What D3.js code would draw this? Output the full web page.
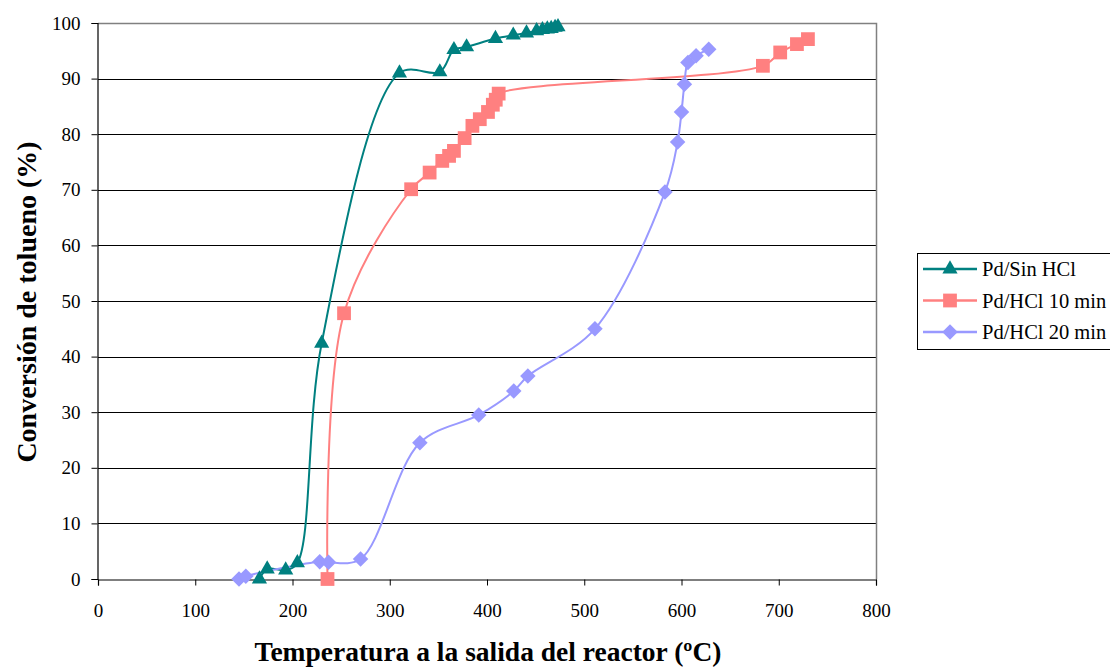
<!DOCTYPE html>
<html>
<head>
<meta charset="utf-8">
<script src="https://cdn.jsdelivr.net/npm/d3@7"></script>
<style>
  html, body { margin: 0; padding: 0; background: #fff; }
  svg { display: block; }
  text { font-family: "Liberation Serif", "Times New Roman", serif; }
</style>
</head>
<body>
<svg id="chart" width="1110" height="669"></svg>
<script>
// Temperature (ºC) and toluene conversion (%) for each catalyst
const sinHclTemp = [166, 174, 193, 205, 230, 310, 351.5, 366, 379, 408.7, 427, 440.6, 451, 457, 462, 466, 470, 473];
const sinHclConv = [0, 1.8, 1.6, 2.9, 42.4, 91, 91.2, 95.2, 95.7, 97.2, 97.8, 98.2, 98.6, 98.8, 98.9, 99.0, 99.2, 99.3];

const hcl10Temp = [236, 253, 322, 341, 354, 361, 366, 377, 385, 392.6, 401, 406, 409, 412, 683.7, 701.5, 718.7, 730];
const hcl10Conv = [0, 47.8, 70.1, 73.1, 75.2, 76.1, 77, 79.3, 81.5, 82.7, 84, 85.3, 86.2, 87.3, 92.3, 94.7, 96.2, 97.1];

const hcl20Temp = [145, 152, 228, 237, 270, 331, 391.5, 427.5, 442, 511, 583, 596, 600, 603, 606.6, 615, 628];
const hcl20Conv = [0, 0.5, 3.1, 3.0, 3.6, 24.5, 29.5, 33.8, 36.5, 45, 69.6, 78.6, 84, 89, 92.9, 94.1, 95.3];

const seriesNames = ["Pd/Sin HCl", "Pd/HCl 10 min", "Pd/HCl 20 min"];
const seriesColors = ["#008080", "#FF8080", "#9999FF"];

const xTicks = [0, 100, 200, 300, 400, 500, 600, 700, 800];
const yTicks = [0, 10, 20, 30, 40, 50, 60, 70, 80, 90, 100];

const xTitle = "Temperatura a la salida del reactor (ºC)";
const yTitle = "Conversión de tolueno (%)";

const serif = '"Liberation Serif", "Times New Roman", serif';

// Square rotated by 45 degrees, equal width and height
const symbolRhombus = {
  draw(ctx, size) {
    const r = Math.sqrt(size / 2);
    ctx.moveTo(0, -r); ctx.lineTo(r, 0); ctx.lineTo(0, r); ctx.lineTo(-r, 0); ctx.closePath();
  }
};
const seriesMarkers = [
  d3.symbol().type(d3.symbolTriangle).size(100)(),
  d3.symbol().type(d3.symbolSquare).size(190)(),
  d3.symbol().type(symbolRhombus).size(120)()
];

const series = [
  { name: seriesNames[0], temp: sinHclTemp, conv: sinHclConv },
  { name: seriesNames[1], temp: hcl10Temp, conv: hcl10Conv },
  { name: seriesNames[2], temp: hcl20Temp, conv: hcl20Conv }
].map((s, i) => ({
  ...s,
  color: seriesColors[i],
  marker: seriesMarkers[i],
  points: s.temp.map((t, j) => [t, s.conv[j]])
}));

const svg = d3.select("#chart");
const plot = { left: 98, top: 23, right: 876, bottom: 579 };

const x = d3.scaleLinear().domain([0, 800]).range([plot.left, plot.right]);
const y = d3.scaleLinear().domain([0, 100]).range([plot.bottom, plot.top]);

// Horizontal gridlines
svg.append("g")
  .selectAll("line")
  .data(yTicks.filter(v => v > 0 && v < 100))
  .join("line")
  .attr("x1", plot.left).attr("x2", plot.right)
  .attr("y1", d => Math.round(y(d)) + 0.5).attr("y2", d => Math.round(y(d)) + 0.5)
  .attr("stroke", "#000").attr("stroke-width", 1);

// Plot frame (top and right)
svg.append("path")
  .attr("d", `M${plot.left},${plot.top + 0.5}H${plot.right + 0.5}V${plot.bottom}`)
  .attr("fill", "none").attr("stroke", "#808080").attr("stroke-width", 1.5);

// Axes
const xAxis = svg.append("g")
  .attr("transform", `translate(0,${plot.bottom + 0.5})`)
  .call(d3.axisBottom(x).tickValues(xTicks).tickSize(6).tickPadding(18).tickFormat(d3.format("d")));
const yAxis = svg.append("g")
  .attr("transform", `translate(${plot.left - 0.5},0)`)
  .call(d3.axisLeft(y).tickValues(yTicks).tickSize(6).tickPadding(11).tickFormat(d3.format("d")));

[xAxis, yAxis].forEach(g => {
  g.attr("font-family", serif).attr("font-size", 19);
  g.select(".domain").attr("stroke", "#000").attr("stroke-width", 1.2);
  g.selectAll(".tick line").attr("stroke", "#000");
  g.selectAll(".tick text")
    .attr("fill", "#000")
    .style("font-family", serif)
    .style("font-size", "19px");
});

// Series lines and markers
const line = d3.line()
  .x(d => x(d[0]))
  .y(d => y(d[1]))
  .curve(d3.curveCatmullRom.alpha(0.5));

series.forEach(s => {
  svg.append("path")
    .datum(s.points)
    .attr("d", line)
    .attr("fill", "none")
    .attr("stroke", s.color)
    .attr("stroke-width", 2);
});

series.forEach(s => {
  svg.append("g")
    .selectAll("path")
    .data(s.points)
    .join("path")
    .attr("transform", d => `translate(${x(d[0])},${y(d[1])})`)
    .attr("d", s.marker)
    .attr("fill", s.color);
});

// Axis titles
svg.append("text")
  .attr("x", 488)
  .attr("y", 661)
  .attr("text-anchor", "middle")
  .style("font-family", serif)
  .style("font-size", "27.5px")
  .style("font-weight", "bold")
  .text(xTitle);

svg.append("text")
  .attr("transform", `translate(36,302) rotate(-90)`)
  .attr("text-anchor", "middle")
  .style("font-family", serif)
  .style("font-size", "28px")
  .style("font-weight", "bold")
  .text(yTitle);

// Legend
const legend = svg.append("g").attr("transform", "translate(917,253)");
legend.append("rect")
  .attr("x", 0.5).attr("y", 0.5)
  .attr("width", 200).attr("height", 96)
  .attr("fill", "#fff").attr("stroke", "#000").attr("stroke-width", 1);

series.forEach((s, i) => {
  const cy = 16 + i * 31.5;
  const row = legend.append("g").attr("transform", `translate(0,${cy})`);
  row.append("line")
    .attr("x1", 6).attr("x2", 60)
    .attr("stroke", s.color).attr("stroke-width", 2.5);
  row.append("path")
    .attr("transform", "translate(33,0)")
    .attr("d", s.marker)
    .attr("fill", s.color);
  row.append("text")
    .attr("x", 65).attr("y", 7)
    .style("font-family", serif)
    .style("font-size", "20.5px")
    .text(s.name);
});
</script>
</body>
</html>
